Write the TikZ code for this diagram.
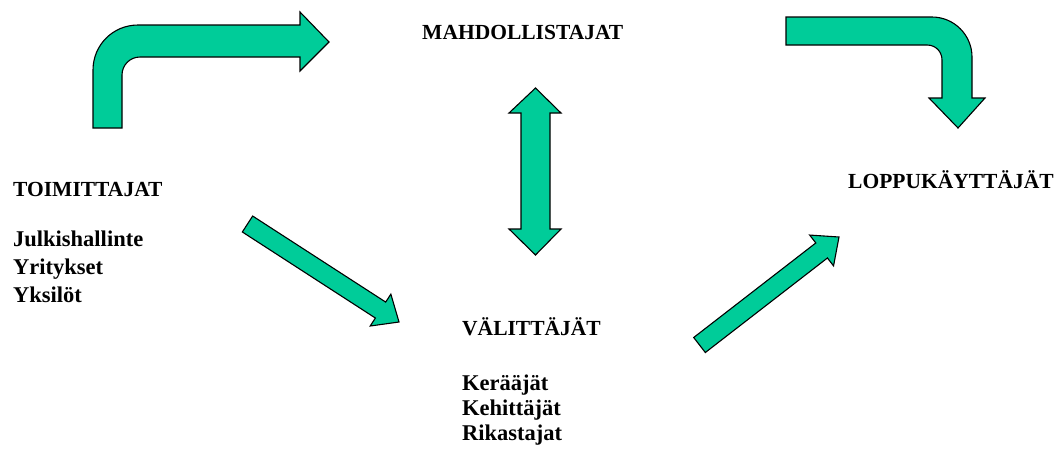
\documentclass[tikz,border=0pt]{standalone}
\usepackage{fontspec}
\setmainfont{Liberation Serif}[BoldFont={Liberation Serif Bold}]
\usetikzlibrary{calc}
\definecolor{arrowfill}{RGB}{0,204,153}
\tikzset{
  barrow/.style={fill=arrowfill, draw=black, line width=1.1pt, line join=miter},
  head/.style={font=\rmfamily\bfseries\fontsize{21.5}{25}\selectfont, anchor=base west, inner sep=0pt},
  item/.style={font=\rmfamily\bfseries\fontsize{22.5}{26}\selectfont, anchor=base west, inner sep=0pt}
}
% straight block arrow: tail, tip, shaft half width, head half width, head length (with units)
\newcommand\straightblock[5]{%
  \coordinate (#1-h) at ($(#2)!#5!(#1)$);
  \draw[barrow] ($(#1)!#3!90:(#2)$) -- ($(#1-h)!#3!-90:(#1)$) -- ($(#1-h)!#4!-90:(#1)$)
     -- (#2) -- ($(#1-h)!#4!90:(#1)$) -- ($(#1-h)!#3!90:(#1)$) -- ($(#1)!#3!-90:(#2)$) -- cycle;
}
\begin{document}
\begin{tikzpicture}[x=1pt,y=-1pt]
\useasboundingbox (0,0) rectangle (1059,448);
% text nodes
\node[head] (mahd) at (422,39) {MAHDOLLISTAJAT};
\node[head] (toim) at (13,196) {TOIMITTAJAT};
\node[item] (julk) at (13,246) {Julkishallinte};
\node[item] (yrit) at (13,274) {Yritykset};
\node[item] (yksi) at (13,302) {Yksilöt};
\node[head] (valit) at (462,335) {VÄLITTÄJÄT};
\node[item] (kera) at (462,390) {Kerääjät};
\node[item] (kehi) at (462,415) {Kehittäjät};
\node[item] (rika) at (462,440) {Rikastajat};
\node[head] (lopp) at (848,188) {LOPPUKÄYTTÄJÄT};
% bent arrow: toimittajat -> mahdollistajat
\draw[barrow] (93,128) -- (93,70) .. controls (93,45) and (113,25) .. (138,25)
  -- (300,25) -- (300,12) -- (329,42) -- (300,71) -- (300,57) -- (140,57)
  .. controls (130,57) and (122,65) .. (122,75) -- (122,128) -- cycle;
% bent arrow: mahdollistajat -> loppukayttajat
\draw[barrow] (786,17) -- (932,17) .. controls (954,17) and (972,35) .. (972,57)
  -- (972,98) -- (985,98) -- (958,128) -- (929,98) -- (942,98) -- (942,60)
  .. controls (942,52) and (936,45) .. (927,45) -- (786,45) -- cycle;
% double arrow
\draw[barrow] (535.5,88) -- (561,113) -- (550,113) -- (550,229) -- (561,229) -- (535.5,255)
  -- (509,229) -- (521,229) -- (521,113) -- (509,113) -- cycle;
% straight arrows
\coordinate (a1t) at (247.5,224);
\coordinate (a1p) at (399,322);
\straightblock{a1t}{a1p}{9.5pt}{19pt}{22pt}
\coordinate (a2t) at (699.5,345);
\coordinate (a2p) at (839,237);
\straightblock{a2t}{a2p}{9.5pt}{19.5pt}{22pt}
\end{tikzpicture}
\end{document}
